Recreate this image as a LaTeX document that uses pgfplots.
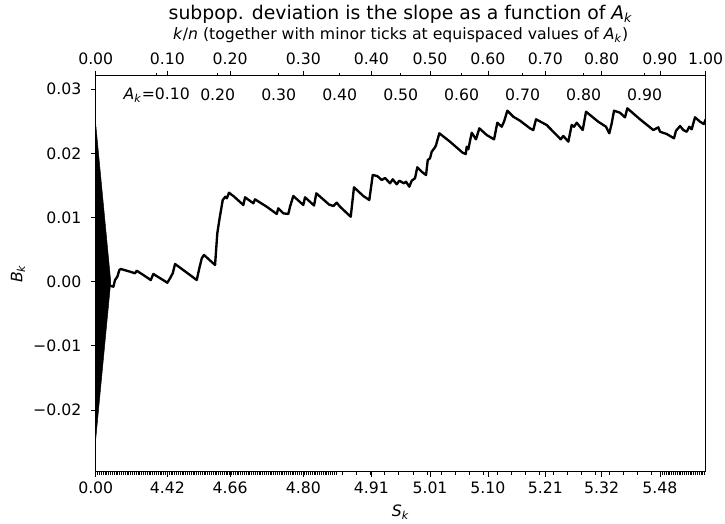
\documentclass[border=0pt]{standalone}
\usepackage{fontspec}
\setmainfont{DejaVu Sans}
\usepackage{pgfplots}
\pgfplotsset{compat=1.18}

\newcommand\Ak{\textit{A}\textsubscript{\textit{k}}}

\begin{document}
\begin{tikzpicture}
\pgfplotsset{
  every axis/.append style={
    scale only axis, width=388.6pt, height=252.3pt,
    xmin=0, xmax=1, ymin=-0.0296, ymax=0.0321,
    scaled y ticks=false, scaled x ticks=false,
    tick align=outside, major tick length=3.2pt, minor tick length=1.8pt,
    every tick/.style={black, line width=0.5pt},
    axis line style={line width=0.6pt},
    tick label style={font=\fontsize{10}{12}\selectfont},
    label style={font=\fontsize{10}{12}\selectfont},
    /pgf/number format/assume math mode=true,
  },
}
\begin{axis}[
  xtick pos=lower, ytick pos=lower,
  xtick={0,0.1174,0.2202,0.3403,0.452,0.548,0.643,0.737,0.8295,0.925},
  xticklabels={0.00,4.42,4.66,4.80,4.91,5.01,5.10,5.21,5.32,5.48},
  minor xtick={0,0.003,...,0.395,0.405,0.428,...,0.92,0.926,0.929,...,1},
  ytick={-0.02,-0.01,0,0.01,0.02,0.03},
  yticklabels={−0.02,−0.01,0.00,0.01,0.02,0.03},
  yticklabel style={xshift=-2.5pt},
  xlabel={\textit{S}\textsubscript{\textit{k}}},
  ylabel={\textit{B}\textsubscript{\textit{k}}},
  xlabel style={at={(axis description cs:0.5,-0.1019)}, anchor=center, inner sep=0pt},
  ylabel style={at={(axis description cs:-0.1274,0.5)}, anchor=center, inner sep=0pt},
]
\coordinate (ll) at (rel axis cs:0,0);
\coordinate (ur) at (rel axis cs:1,1);
% scale triangle
\addplot[fill=black, draw=black, line width=0.3pt] coordinates {
  (0,0.0245) (0.0246,0) (0,-0.0245) (0,0.0245)
};
% cumulative deviation B_k against A_k
\addplot[black, line width=1.5pt, line join=round] coordinates {
  (0,0) (0.010,0.0003) (0.020,-0.0004)
  (0.0246,-0.00067) (0.0289,-0.00078) (0.0316,0.00026) (0.0354,0.00078)
  (0.0387,0.00182) (0.0410,0.00198) (0.0562,0.00156) (0.0644,0.00131)
  (0.0672,0.00171) (0.0780,0.00104) (0.0902,0.00026) (0.0944,0.00120)
  (0.1174,-0.00016) (0.1218,0.00053) (0.1262,0.00131) (0.1300,0.00276)
  (0.1656,0.00026) (0.1698,0.00209) (0.1738,0.00364) (0.1775,0.00416)
  (0.1956,0.00260) (0.1993,0.00754) (0.2026,0.00961) (0.2082,0.01273)
  (0.2125,0.01324) (0.2148,0.01299) (0.2185,0.01386) (0.2256,0.01335)
  (0.2420,0.01195) (0.2448,0.01315) (0.2584,0.01221) (0.2611,0.01283)
  (0.2803,0.01168) (0.2967,0.01055) (0.2993,0.01143) (0.3075,0.01065)
  (0.3157,0.01055) (0.3185,0.01168) (0.3239,0.01335) (0.3403,0.01195)
  (0.3431,0.01315) (0.3579,0.01187) (0.3616,0.01377) (0.3825,0.01202)
  (0.3895,0.01179) (0.3951,0.01231) (0.4005,0.01168) (0.4180,0.01012)
  (0.4234,0.01470) (0.4387,0.01335) (0.4485,0.01273) (0.4541,0.01662)
  (0.4616,0.01646) (0.4689,0.01584) (0.4743,0.01615) (0.4825,0.01533)
  (0.4869,0.01595) (0.4934,0.01517) (0.4977,0.01573) (0.5054,0.01533)
  (0.5087,0.01558) (0.5141,0.01480) (0.5180,0.01573) (0.5234,0.01611)
  (0.5272,0.01782) (0.5344,0.01713) (0.5415,0.01662) (0.5443,0.01896)
  (0.5480,0.01922) (0.5508,0.02025) (0.5562,0.02093) (0.5579,0.02129)
  (0.5633,0.02312) (0.5808,0.02181) (0.6016,0.02009) (0.6066,0.01989)
  (0.6082,0.02103) (0.6108,0.02062) (0.6164,0.02321) (0.6234,0.02218)
  (0.6289,0.02389) (0.6410,0.02285) (0.6530,0.02218) (0.6584,0.02477)
  (0.6656,0.02414) (0.6693,0.02492) (0.6748,0.02664) (0.6846,0.02570)
  (0.6956,0.02508) (0.7120,0.02389) (0.7174,0.02363) (0.7218,0.02530)
  (0.7393,0.02441) (0.7623,0.02218) (0.7666,0.02270) (0.7748,0.02181)
  (0.7803,0.02441) (0.7841,0.02414) (0.7885,0.02477) (0.7939,0.02414)
  (0.7984,0.02363) (0.8038,0.02648) (0.8239,0.02492) (0.8366,0.02414)
  (0.8420,0.02312) (0.8459,0.02467) (0.8497,0.02664) (0.8595,0.02632)
  (0.8677,0.02561) (0.8715,0.02701) (0.8923,0.02530) (0.9141,0.02363)
  (0.9223,0.02405) (0.9251,0.02336) (0.9361,0.02301) (0.9480,0.02234)
  (0.9513,0.02352) (0.9580,0.02425) (0.9633,0.02363) (0.9689,0.02336)
  (0.9731,0.02414) (0.9770,0.02374) (0.9825,0.02561) (0.9907,0.02492)
  (0.9970,0.02456) (1.0,0.02530)
};
\node[font=\fontsize{10}{12}\selectfont] at (axis cs:0.1,0.0291) {\Ak=0.10};
\node[font=\fontsize{10}{12}\selectfont] at (axis cs:0.2,0.0291) {0.20};
\node[font=\fontsize{10}{12}\selectfont] at (axis cs:0.3,0.0291) {0.30};
\node[font=\fontsize{10}{12}\selectfont] at (axis cs:0.4,0.0291) {0.40};
\node[font=\fontsize{10}{12}\selectfont] at (axis cs:0.5,0.0291) {0.50};
\node[font=\fontsize{10}{12}\selectfont] at (axis cs:0.6,0.0291) {0.60};
\node[font=\fontsize{10}{12}\selectfont] at (axis cs:0.7,0.0291) {0.70};
\node[font=\fontsize{10}{12}\selectfont] at (axis cs:0.8,0.0291) {0.80};
\node[font=\fontsize{10}{12}\selectfont] at (axis cs:0.9,0.0291) {0.90};
\end{axis}
\begin{axis}[
  clip=false,
  axis x line*=top, axis y line=none,
  ytick=\empty,
  xtick={0,0.1174,0.2202,0.3403,0.452,0.548,0.643,0.737,0.8295,0.925,1},
  xticklabels={0.00,0.10,0.20,0.30,0.40,0.50,0.60,0.70,0.80,0.90,1.00},
  xticklabel style={yshift=0.5pt, inner xsep=0pt},
  minor xtick={0.1,0.2,...,0.9},
]
\node[font=\fontsize{10}{12}\selectfont, inner sep=0pt] at (axis description cs:0.5,1.1027)
  {\textit{k}/\textit{n} (together with minor ticks at equispaced values of \Ak)};
\node[font=\fontsize{12}{14}\selectfont, inner sep=0pt] at (axis description cs:0.5,1.1558)
  {subpop. deviation is the slope as a function of \Ak};
\end{axis}
% page margins as in the reference
\path (ll) ++(-61pt,-32.7pt);
\path (ur) ++(12.3pt,48.2pt);
\end{tikzpicture}
\end{document}
